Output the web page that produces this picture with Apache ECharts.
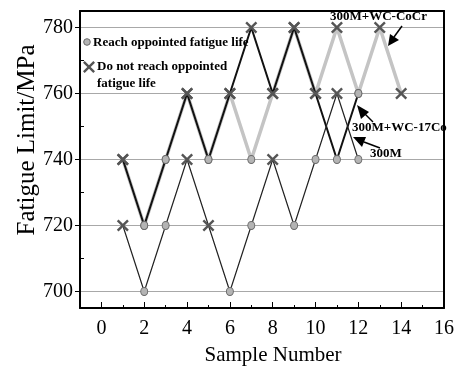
<!DOCTYPE html>
<html><head><meta charset="utf-8">
<script src="https://cdn.jsdelivr.net/npm/echarts@6/dist/echarts.min.js"></script>
<style>html,body{margin:0;padding:0;background:#fff}#c{width:457px;height:367px}</style>
</head><body><div id="c"></div>
<script>
// ---- data ----
const samples300M = [1,2,3,4,5,6,7,8,9,10,11,12];
const values300M  = [720,700,720,740,720,700,720,740,720,740,760,740];
const status300M  = ['x','o','o','x','x','o','o','x','o','o','x','o'];

const samples17Co = [1,2,3,4,5,6,7,8,9,10,11,12];
const values17Co  = [740,720,740,760,740,760,780,760,780,760,740,760];
const status17Co  = ['x','o','o','x','o','x','x','x','x','x','o','o'];

const samplesCoCr = [1,2,3,4,5,6,7,8,9,10,11,12,13,14];
const valuesCoCr  = [740,720,740,760,740,760,740,760,780,760,780,760,780,760];
const statusCoCr  = ['x','o','o','x','o','x','o','x','x','x','x','o','x','x'];

const xTickLabels = [0,2,4,6,8,10,12,14,16];
const yTickLabels = [700,720,740,760,780];
const yMinorTicks = [710,730,750,770];

// ---- styles ----
const SERIF = '"Liberation Serif","DejaVu Serif",serif';
const XPATH = 'path://M0,1.4L1.4,0L5,3.6L8.6,0L10,1.4L6.4,5L10,8.6L8.6,10L5,6.4L1.4,10L0,8.6L3.6,5Z';
function pt(x, y, s) {
  if (s === 'x') return {value:[x,y], symbol:XPATH, symbolSize:12, itemStyle:{color:'#555', borderWidth:0}};
  return {value:[x,y], symbol:'circle', symbolSize:[7,8], itemStyle:{color:'#b4b4b4', borderColor:'#6a6a6a', borderWidth:1}};
}
function build(xs, ys, st) { return xs.map((x,i)=>pt(x, ys[i], st[i])); }
function xPoly(cx, cy, s) {
  const raw = [[0,1.4],[1.4,0],[5,3.6],[8.6,0],[10,1.4],[6.4,5],[10,8.6],[8.6,10],[5,6.4],[1.4,10],[0,8.6],[3.6,5]];
  return raw.map(p => [cx + (p[0]-5)*s/10, cy + (p[1]-5)*s/10]);
}
function txt(x, y, t) {
  return {type:'text', x:x, y:y, z:10, style:{text:t, font:'bold 13px '+SERIF, fill:'#000', verticalAlign:'middle', align:'left'}};
}

const chart = echarts.init(document.getElementById('c'), null, {renderer:'canvas'});
const axisLineStyle = {color:'#000', width:2};
chart.setOption({
  animation:false,
  backgroundColor:'#fff',
  grid:{left:80, right:11, top:11, bottom:59},
  xAxis:[
    {type:'value', min:-1, max:16, interval:1, position:'bottom',
     axisLine:{show:true, onZero:false, lineStyle:axisLineStyle},
     axisTick:{show:true, inside:true, length:3, lineStyle:{color:'#000', width:1}},
     axisLabel:{show:true, margin:11, color:'#000', fontFamily:SERIF, fontSize:20,
       customValues:xTickLabels},
     splitLine:{show:false}},
    {type:'value', min:-1, max:16, position:'bottom',
     axisLine:{show:false, onZero:false},
     axisTick:{show:true, inside:true, length:6, customValues:xTickLabels, lineStyle:{color:'#000', width:1}},
     axisLabel:{show:false}, splitLine:{show:false}},
    {type:'value', min:-1, max:16, position:'top',
     axisLine:{show:true, onZero:false, lineStyle:axisLineStyle},
     axisTick:{show:false}, axisLabel:{show:false}, splitLine:{show:false}}
  ],
  yAxis:[
    {type:'value', min:695, max:785, position:'left',
     axisLine:{show:true, onZero:false, lineStyle:axisLineStyle},
     axisTick:{show:true, inside:false, length:5, customValues:yTickLabels, lineStyle:{color:'#000', width:1}},
     axisLabel:{show:true, margin:7, color:'#000', fontFamily:SERIF, fontSize:20, customValues:yTickLabels},
     splitLine:{show:true, lineStyle:{color:'#a8a8a8', width:1}}},
    {type:'value', min:695, max:785, position:'left',
     axisLine:{show:false, onZero:false},
     axisTick:{show:true, inside:true, length:4, customValues:yMinorTicks, lineStyle:{color:'#000', width:1}},
     axisLabel:{show:false}, splitLine:{show:false}},
    {type:'value', min:695, max:785, position:'right',
     axisLine:{show:true, onZero:false, lineStyle:axisLineStyle},
     axisTick:{show:false}, axisLabel:{show:false}, splitLine:{show:false}}
  ],
  series:[
    {name:'300M+WC-CoCr', type:'line', z:2, data:build(samplesCoCr, valuesCoCr, statusCoCr),
     lineStyle:{color:'#c4c4c4', width:3.5}, showAllSymbol:true},
    {name:'300M+WC-17Co', type:'line', z:3, data:build(samples17Co, values17Co, status17Co),
     lineStyle:{color:'#111', width:2}, showAllSymbol:true},
    {name:'300M', type:'line', z:4, data:build(samples300M, values300M, status300M),
     lineStyle:{color:'#222', width:1.2}, showAllSymbol:true}
  ],
  graphic:[
    // axis titles
    {type:'text', x:273, y:355, z:10, style:{text:'Sample Number', font:'21px '+SERIF, fill:'#000', align:'center', verticalAlign:'middle'}},
    {type:'text', x:27, y:140, rotation:Math.PI/2, z:10, style:{text:'Fatigue Limit/MPa', font:'25px '+SERIF, fill:'#000', align:'center', verticalAlign:'middle'}},
    // legend
    {type:'circle', shape:{cx:87, cy:42, r:3.3}, style:{fill:'#b4b4b4', stroke:'#6a6a6a', lineWidth:1}, z:10},
    txt(93, 43, 'Reach oppointed fatigue life'),
    {type:'polygon', shape:{points:xPoly(89, 67, 12)}, style:{fill:'#555'}, z:10},
    txt(97, 67, 'Do not reach oppointed'),
    txt(97, 84, 'fatigue life'),
    // annotations
    txt(330, 17, '300M+WC-CoCr'),
    {type:'polyline', shape:{points:[[402,26],[394,37]]}, style:{stroke:'#000', lineWidth:1.5, fill:null}, z:10},
    {type:'polygon', shape:{points:[[388,46],[399,40],[390,34]]}, style:{fill:'#000'}, z:10},
    txt(352, 128, '300M+WC-17Co'),
    {type:'polyline', shape:{points:[[373,122],[365,114]]}, style:{stroke:'#000', lineWidth:1.5, fill:null}, z:10},
    {type:'polygon', shape:{points:[[357,105],[369,112],[361,119]]}, style:{fill:'#000'}, z:10},
    txt(370, 154, '300M'),
    {type:'polyline', shape:{points:[[380,148],[364,142]]}, style:{stroke:'#000', lineWidth:1.5, fill:null}, z:10},
    {type:'polygon', shape:{points:[[353,137],[366,137],[362,147]]}, style:{fill:'#000'}, z:10}
  ]
});
</script></body></html>
